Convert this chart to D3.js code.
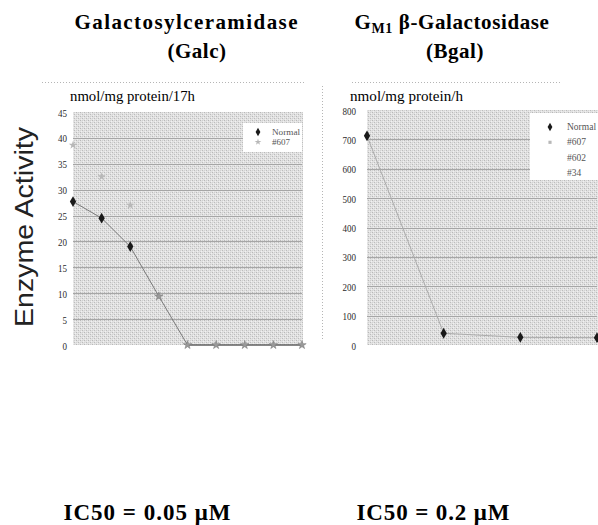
<!DOCTYPE html>
<html><head><meta charset="utf-8">
<script src="https://cdn.jsdelivr.net/npm/d3@7/dist/d3.min.js"></script>
<style>body{margin:0;background:#fff}svg{display:block}</style>
</head><body>
<svg id="c" width="598" height="525"></svg>
<script>
// ---- data ----
const galcCategories = ["1","2","3","4","5","6","7","8","9"];
const galcNormal = [27.7, 24.5, 19.0, 9.4, 0, 0, 0, 0, 0];
const galc607 = [38.6, 32.5, 27.0, 9.4, 0, 0, 0, 0, 0];
const galcTicks = [0,5,10,15,20,25,30,35,40,45];
const bgalCategories = ["1","2","3","4"];
const bgalNormal = [712, 40, 26, 25];
const bgalTicks = [0,100,200,300,400,500,600,700,800];
const galcLegend = ["Normal","#607"];
const bgalLegend = ["Normal","#607","#602","#34"];

const svg = d3.select("#c");
const serif = "Liberation Serif, DejaVu Serif, serif";

// halftone pattern
const defs = svg.append("defs");
const pat = defs.append("pattern").attr("id","ht").attr("width",4).attr("height",4).attr("patternUnits","userSpaceOnUse");
pat.append("rect").attr("width",4).attr("height",4).attr("fill","#e2e2e2");
[[0,0,"#b8b8b8"],[2,2,"#bcbcbc"],[2,0,"#cfcfcf"],[0,2,"#d2d2d2"],[1,3,"#f0f0f0"],[3,1,"#f0f0f0"]].forEach(p=>{
  pat.append("rect").attr("x",p[0]).attr("y",p[1]).attr("width",1).attr("height",1).attr("fill",p[2]);
});

// dotted frame lines
const dot = svg.append("g").attr("stroke","#b5b5b5").attr("stroke-dasharray","1,2").attr("stroke-width",1);
dot.append("line").attr("x1",42).attr("x2",305).attr("y1",82.5).attr("y2",82.5);
dot.append("line").attr("x1",352).attr("x2",560).attr("y1",82.5).attr("y2",82.5);
dot.append("line").attr("x1",322.5).attr("x2",322.5).attr("y1",86).attr("y2",340);

function panel(opt){
  const x = d3.scalePoint().domain(opt.cats).range([opt.x0, opt.x1]).padding(0);
  const y = d3.scaleLinear().domain([0, opt.ymax]).range([345, opt.ytop]);
  const g = svg.append("g");
  g.append("rect").attr("x",opt.x0).attr("y",opt.ytop).attr("width",opt.x1-opt.x0+1).attr("height",345-opt.ytop).attr("fill","url(#ht)");
  g.append("g").selectAll("line").data(opt.ticks.filter(t=>t>0 && t<opt.ymax)).join("line")
    .attr("x1",opt.x0).attr("x2",opt.x1).attr("y1",d=>Math.round(y(d))+0.5).attr("y2",d=>Math.round(y(d))+0.5)
    .attr("stroke","#a6a6a6").attr("stroke-width",1);
  const ax = g.append("g").attr("transform",`translate(${opt.labelX},0)`)
    .call(d3.axisLeft(y).tickValues(opt.ticks).tickSize(0).tickPadding(0).tickFormat(d3.format("d")));
  ax.attr("font-family",serif);
  ax.select(".domain").remove();
  ax.selectAll("text").attr("font-family",serif).attr("font-size",11).attr("fill","#2a2a2a")
    .attr("transform","scale(0.82,1)").attr("x",0);
  ax.selectAll(".tick").attr("transform",d=>`translate(0,${y(d)+1})`);
  return {x,y,g};
}

// ---- left panel ----
const L = panel({cats:galcCategories, x0:73, x1:302, ytop:112, ymax:45, ticks:galcTicks, labelX:67});
L.g.append("path").datum(galcNormal).attr("fill","none").attr("stroke","#7a7a7a").attr("stroke-width",1)
  .attr("d", d3.line().x((d,i)=>L.x(galcCategories[i])).y(d=>L.y(d)));
L.g.append("path").datum(galcNormal.slice(4)).attr("fill","none").attr("stroke","#555").attr("stroke-width",1)
  .attr("d", d3.line().x((d,i)=>L.x(galcCategories[i+4])).y(d=>L.y(d)));
L.g.selectAll(".n").data(galcNormal.slice(0,3)).join("path")
  .attr("transform",(d,i)=>`translate(${L.x(galcCategories[i])},${L.y(d)})`)
  .attr("d", d3.symbol(d3.symbolDiamond, 34)).attr("fill","#1a1a1a");
L.g.selectAll(".s").data(galc607).join("path")
  .attr("transform",(d,i)=>`translate(${L.x(galcCategories[i])},${L.y(d)})`)
  .attr("d", d3.symbol(d3.symbolStar, 22)).attr("fill",(d,i)=>i>=3?"#999":"#b8b8b8")
  .attr("stroke",(d,i)=>i>=3?"#777":"none").attr("stroke-width",0.5);

// left legend
L.g.append("rect").attr("x",243).attr("y",123).attr("width",59).attr("height",29).attr("fill","#fff");
galcLegend.forEach((t,i)=>{
  const yy = 132 + i*10;
  L.g.append("path").attr("transform",`translate(258,${yy})`)
    .attr("d", d3.symbol(i===0?d3.symbolDiamond:d3.symbolStar, i===0?20:14)).attr("fill", i===0?"#1a1a1a":"#b8b8b8");
  L.g.append("text").attr("x",272).attr("y",yy+3).text(t).attr("font-family",serif).attr("font-size",8)
    .attr("fill","#555").attr("textLength", i===0?28:18).attr("lengthAdjust","spacingAndGlyphs");
});

// ---- right panel ----
const R = panel({cats:bgalCategories, x0:367, x1:597, ytop:110, ymax:800, ticks:bgalTicks, labelX:356});
R.g.append("path").datum(bgalNormal).attr("fill","none").attr("stroke","#ababab").attr("stroke-width",1)
  .attr("d", d3.line().x((d,i)=>R.x(bgalCategories[i])).y(d=>R.y(d)));
R.g.selectAll(".n").data(bgalNormal).join("path")
  .attr("transform",(d,i)=>`translate(${R.x(bgalCategories[i])},${R.y(d)})`)
  .attr("d", d3.symbol(d3.symbolDiamond, 34)).attr("fill","#1a1a1a");
R.g.append("rect").attr("x",530).attr("y",113).attr("width",68).attr("height",67).attr("fill","#fff");
bgalLegend.forEach((t,i)=>{
  const yy = 127 + i*15.3;
  if(i<2) R.g.append("path").attr("transform",`translate(550,${yy})`)
    .attr("d", d3.symbol(i===0?d3.symbolDiamond:d3.symbolSquare, i===0?20:10)).attr("fill", i===0?"#1a1a1a":"#b8b8b8");
  R.g.append("text").attr("x",567).attr("y",yy+3).text(t).attr("font-family",serif).attr("font-size",9.5)
    .attr("fill","#555");
});

// ---- units ----
svg.append("text").attr("x",70).attr("y",101).text("nmol/mg protein/17h").attr("font-family",serif)
  .attr("font-size",14).attr("fill","#000").attr("textLength",125).attr("lengthAdjust","spacingAndGlyphs");
svg.append("text").attr("x",350).attr("y",101).text("nmol/mg protein/h").attr("font-family",serif)
  .attr("font-size",14).attr("fill","#000").attr("textLength",113).attr("lengthAdjust","spacingAndGlyphs");

// ---- y label ----
svg.append("text").attr("transform","translate(33,227) rotate(-90)").attr("text-anchor","middle")
  .text("Enzyme Activity").attr("font-family","Liberation Sans, Arial, sans-serif").attr("font-size",25)
  .attr("fill","#222").attr("textLength",200).attr("lengthAdjust","spacingAndGlyphs");

// ---- titles ----
svg.append("text").attr("x",186).attr("y",29).attr("text-anchor","middle").text("Galactosylceramidase")
  .attr("font-family",serif).attr("font-weight","bold").attr("font-size",21).attr("fill","#000")
  .attr("textLength",223).attr("lengthAdjust","spacing");
svg.append("text").attr("x",197).attr("y",58).attr("text-anchor","middle").text("(Galc)")
  .attr("font-family",serif).attr("font-weight","bold").attr("font-size",21).attr("letter-spacing",0.5).attr("fill","#000");
const t2 = svg.append("text").attr("x",452).attr("y",29).attr("text-anchor","middle")
  .attr("font-family",serif).attr("font-weight","bold").attr("font-size",21).attr("fill","#000").attr("letter-spacing",0.6);
t2.append("tspan").text("G");
t2.append("tspan").text("M1").attr("font-size",14).attr("dy",4);
t2.append("tspan").text(" β-Galactosidase").attr("dy",-4);
svg.append("text").attr("x",455).attr("y",58).attr("text-anchor","middle").text("(Bgal)")
  .attr("font-family",serif).attr("font-weight","bold").attr("font-size",21).attr("letter-spacing",0.5).attr("fill","#000");

// ---- IC50 ----
svg.append("text").attr("x",147).attr("y",520).attr("text-anchor","middle").text("IC50 = 0.05 μM")
  .attr("font-family",serif).attr("font-weight","bold").attr("font-size",23).attr("fill","#000")
  .attr("textLength",167).attr("lengthAdjust","spacing");
svg.append("text").attr("x",433).attr("y",520).attr("text-anchor","middle").text("IC50 = 0.2 μM")
  .attr("font-family",serif).attr("font-weight","bold").attr("font-size",23).attr("fill","#000")
  .attr("textLength",153).attr("lengthAdjust","spacing");
</script>
</body></html>
